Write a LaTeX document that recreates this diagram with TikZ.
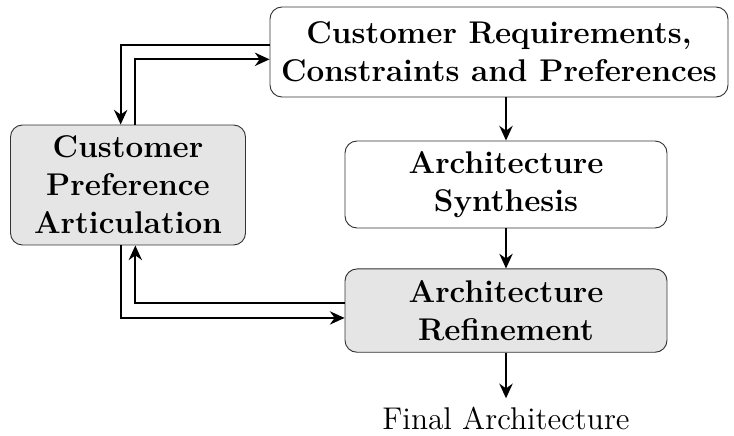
\documentclass[tikz,border=0pt]{standalone}
\usepackage{tikz}
\usetikzlibrary{positioning,arrows.meta}
\newcommand{\boxFont}{\fontsize{13.4}{16.2}\selectfont}
\tikzstyle{block} = [draw=black!80, rounded corners = .18cm, align=center, font=\boxFont\bfseries, inner sep=2pt]
\tikzstyle{greyBlock} = [block, fill=gray!20]
\tikzstyle{flow} = [thick, -{Stealth[length=2.2mm, width=2mm]}]
\newcommand{\gap}{.11}

\begin{document}
\begin{tikzpicture}
          \useasboundingbox (0,0) rectangle (11.01,6.525);
          \node [block, minimum width = 6.87cm, minimum height = 1.35cm] (requirements) at (7.485,5.745) {Customer Requirements,\\Constraints and Preferences};
          \node [block, minimum width = 4.83cm, minimum height = 1.305cm] (synthesis) at (7.59,3.7575) {Architecture\\Synthesis};
          \node [greyBlock, minimum width = 4.83cm, minimum height = 1.25cm, below = .6cm of synthesis] (refinement) {Architecture\\Refinement};
          \node [greyBlock, minimum width = 3.525cm, minimum height = 1.8cm] (articulation) at (1.92,3.75) {Customer\\Preference\\Articulation};
          \node [font=\boxFont, anchor=base] (final) at (7.59,0.09) {Final Architecture};

          \draw [flow] (requirements.south -| synthesis) -- (synthesis);
          \draw [flow] (synthesis) -- (refinement);
          \draw [flow] (refinement) -- (final);

          % loops to and from the customer
          \draw [flow] ([yshift = \gap cm]requirements.west) -| ([xshift = -\gap cm]articulation.north);
          \draw [flow] ([xshift = \gap cm]articulation.north) |- ([yshift = -\gap cm]requirements.west);
          \draw [flow] ([yshift = \gap cm]refinement.west) -| ([xshift = \gap cm]articulation.south);
          \draw [flow] ([xshift = -\gap cm]articulation.south) |- ([yshift = -\gap cm]refinement.west);
        \end{tikzpicture}
\end{document}
